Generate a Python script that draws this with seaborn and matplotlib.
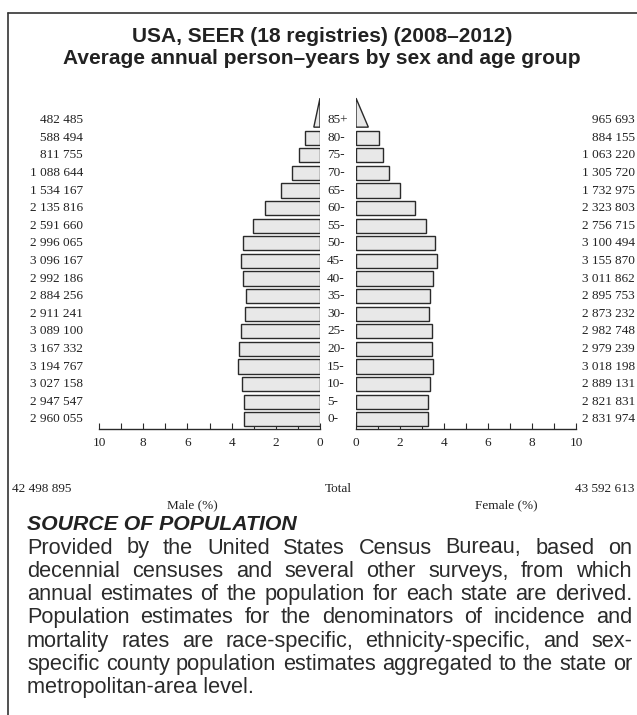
import matplotlib
matplotlib.use('Agg')
import matplotlib.pyplot as plt
from matplotlib.patches import Polygon
from matplotlib.lines import Line2D
import pandas as pd
import seaborn as sns

# -----------------------------
# Data (youngest group first)
# -----------------------------
age_groups = ['0-', '5-', '10-', '15-', '20-', '25-', '30-', '35-', '40-',
              '45-', '50-', '55-', '60-', '65-', '70-', '75-', '80-', '85+']
male_counts = [2960055, 2947547, 3027158, 3194767, 3167332, 3089100, 2911241,
               2884256, 2992186, 3096167, 2996065, 2591660, 2135816, 1534167,
               1088644, 811755, 588494, 482485]
female_counts = [2831974, 2821831, 2889131, 3018198, 2979239, 2982748, 2873232,
                 2895753, 3011862, 3155870, 3100494, 2756715, 2323803, 1732975,
                 1305720, 1063220, 884155, 965693]
x_ticks = [0, 2, 4, 6, 8, 10]

title_lines = ['USA, SEER (18 registries) (2008\u20132012)',
               'Average annual person\u2013years by sex and age group']
source_head = 'SOURCE OF POPULATION'
source_lines = [
    'Provided by the United States Census Bureau, based on',
    'decennial censuses and several other surveys, from which',
    'annual estimates of the population for each state are derived.',
    'Population estimates for the denominators of incidence and',
    'mortality rates are race-specific, ethnicity-specific, and sex-',
    'specific county population estimates aggregated to the state or',
    'metropolitan-area level.',
]

def fmt(v):
    return f'{v:,}'.replace(',', ' ')

male_total = sum(male_counts)
female_total = sum(female_counts)
grand_total = male_total + female_total

df = pd.DataFrame({
    'age': age_groups,
    'pos': range(len(age_groups)),
    'male_pct': [v / grand_total * 100 for v in male_counts],
    'female_pct': [v / grand_total * 100 for v in female_counts],
})
bars = df.iloc[:-1]      # closed age groups drawn as bars
top = df.iloc[-1]        # open-ended 85+ group drawn as a triangle

# -----------------------------
# Figure layout (pixel based)
# -----------------------------
W, H = 637, 715
fig = plt.figure(figsize=(W / 100, H / 100), dpi=100)
sns.set_style('white')

serif = 'Liberation Serif'
sans = 'Liberation Sans'
ink = '#222222'
body_ink = '#2b2b2b'
fill = '#e8e8e8'
edge = '#2a2a2a'
num_fs = 9.5

ylim = (-0.55, 18.6)
ax_bottom_px = 429
row_px = 17.6
ax_h = (ylim[1] - ylim[0]) * row_px

def px_axes(x0, x1):
    return fig.add_axes([x0 / W, 1 - ax_bottom_px / H, (x1 - x0) / W, ax_h / H])

ax_m = px_axes(99, 320)
ax_f = px_axes(356, 576)

for ax, col, side in [(ax_m, 'male_pct', 'm'), (ax_f, 'female_pct', 'f')]:
    sns.barplot(data=bars, x=col, y='pos', orient='y', native_scale=True,
                color=fill, edgecolor=edge, linewidth=1.0, width=0.8,
                saturation=1, ax=ax)
    v = top[col]
    p = top['pos']
    tri = Polygon([(0, p - 0.4), (v / 2, p - 0.4), (0, p + 1.25)], closed=True,
                  facecolor=fill, edgecolor=edge, linewidth=1.0)
    ax.add_patch(tri)
    ax.set_ylim(*ylim)
    ax.set_xlim((10, 0) if side == 'm' else (0, 10))
    ax.set_xticks(x_ticks)
    ax.set_xticks(range(0, 11), minor=True)
    ax.set_xticklabels([str(t) for t in x_ticks], fontfamily=serif, fontsize=num_fs, color=ink)
    ax.tick_params(axis='x', which='both', direction='in', length=4, width=0.8,
                   color=edge, pad=6, bottom=True)
    ax.set_yticks([])
    ax.set_xlabel('')
    ax.set_ylabel('')
    for s in ['top', 'left', 'right']:
        ax.spines[s].set_visible(False)
    ax.spines['bottom'].set_color(edge)
    ax.spines['bottom'].set_linewidth(1.0)
    ax.patch.set_alpha(0)

# value labels and age labels
for _, r in df.iterrows():
    y_px = ax_bottom_px - (r['pos'] - ylim[0]) * row_px
    yf = 1 - y_px / H
    fig.text(83 / W, yf, fmt(male_counts[r['pos']]), ha='right', va='center',
             fontfamily=serif, fontsize=num_fs, color=ink)
    fig.text(635 / W, yf, fmt(female_counts[r['pos']]), ha='right', va='center',
             fontfamily=serif, fontsize=num_fs, color=ink)
    fig.text(327 / W, yf, r['age'], ha='left', va='center',
             fontfamily=serif, fontsize=num_fs, color=ink)

# totals row and axis titles
fig.text(12 / W, 1 - 489 / H, fmt(male_total), ha='left', va='center',
         fontfamily=serif, fontsize=num_fs, color=ink)
fig.text(338 / W, 1 - 489 / H, 'Total', ha='center', va='center',
         fontfamily=serif, fontsize=num_fs, color=ink)
fig.text(634 / W, 1 - 489 / H, fmt(female_total), ha='right', va='center',
         fontfamily=serif, fontsize=num_fs, color=ink)
fig.text(192 / W, 1 - 505 / H, 'Male (%)', ha='center', va='center',
         fontfamily=serif, fontsize=num_fs, color=ink)
fig.text(506 / W, 1 - 505 / H, 'Female (%)', ha='center', va='center',
         fontfamily=serif, fontsize=num_fs, color=ink)

# title
fig.text(322 / W, 1 - 37 / H, title_lines[0], ha='center', va='center',
         fontfamily=sans, fontweight='bold', fontsize=15, color=ink)
fig.text(322 / W, 1 - 58 / H, title_lines[1], ha='center', va='center',
         fontfamily=sans, fontweight='bold', fontsize=15, color=ink)

# frame lines (left and top)
fig.add_artist(Line2D([8 / W, 8 / W], [0, 1 - 13 / H], transform=fig.transFigure,
                      color='#333333', linewidth=1.2))
fig.add_artist(Line2D([8 / W, 1], [1 - 13 / H, 1 - 13 / H], transform=fig.transFigure,
                      color='#333333', linewidth=1.2))

# -----------------------------
# Source paragraph (justified)
# -----------------------------
fig.text(27 / W, 1 - 525 / H, source_head, ha='left', va='center',
         fontfamily=sans, fontweight='bold', fontstyle='italic', fontsize=15.3, color=ink)

fig.canvas.draw()
renderer = fig.canvas.get_renderer()
left_px, right_px = 27, 632

# pick the body size so the tightest line just fills the column
probe = fig.text(0, 0, '', fontfamily=sans, fontsize=10)
widest = 0
for line in source_lines:
    probe.set_text(line)
    widest = max(widest, probe.get_window_extent(renderer).width)
probe.remove()
body_fs = 10 * (right_px - left_px) / widest

for i, line in enumerate(source_lines):
    y = 1 - (548 + i * 23.3) / H
    words = line.split(' ')
    if i == len(source_lines) - 1:
        fig.text(left_px / W, y, line, ha='left', va='center',
                 fontfamily=sans, fontsize=body_fs, color=body_ink)
        continue
    objs = [fig.text(0, y, w, ha='left', va='center', fontfamily=sans,
                     fontsize=body_fs, color=body_ink) for w in words]
    widths = [o.get_window_extent(renderer).width for o in objs]
    gap = (right_px - left_px - sum(widths)) / (len(words) - 1)
    x = left_px
    for o, w in zip(objs, widths):
        o.set_x(x / W)
        x += w + gap

fig.savefig('out.png', dpi=100)
